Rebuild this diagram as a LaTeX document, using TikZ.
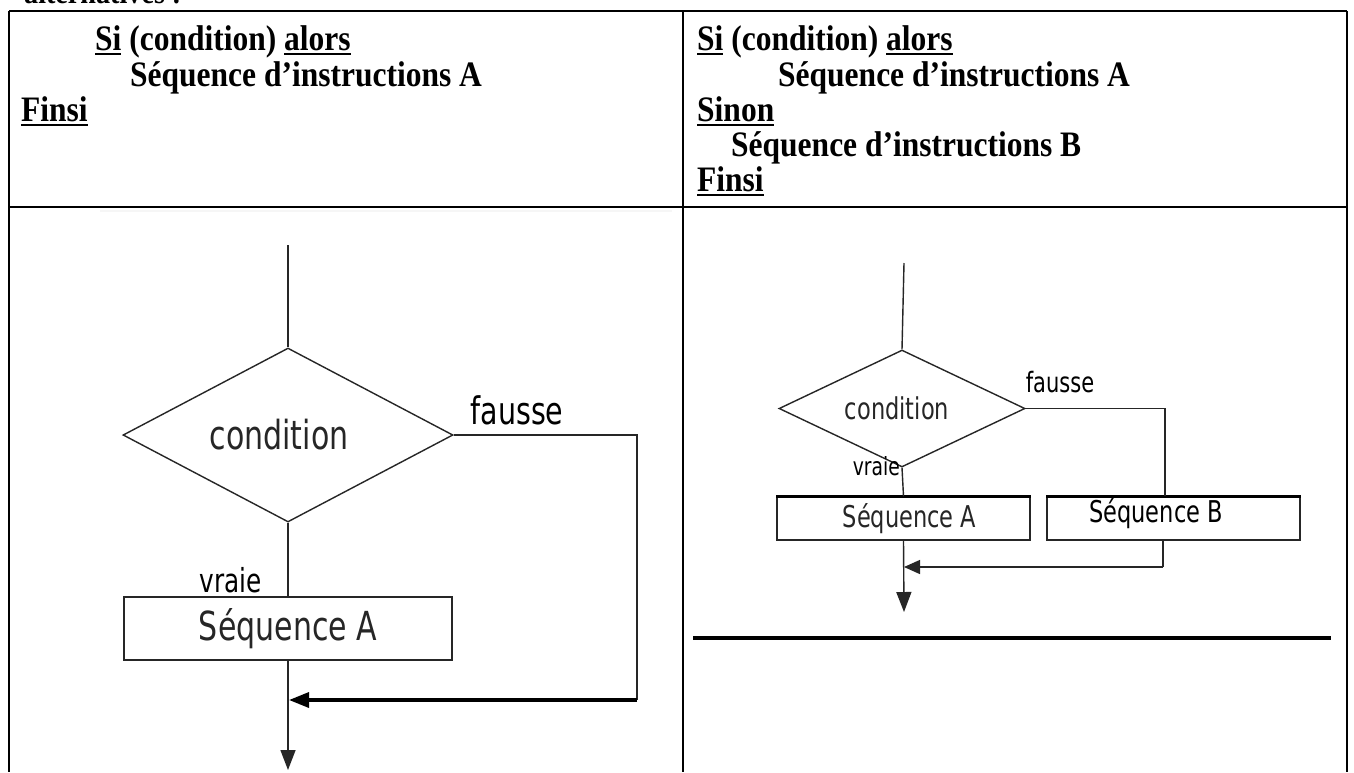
\documentclass[tikz,border=0pt]{standalone}
\usepackage{fontspec}
\setmainfont[FakeStretch=0.88]{Liberation Serif}
\newfontfamily\flowfont[FakeStretch=0.75]{DejaVu Sans}
\usetikzlibrary{shapes.geometric,arrows.meta}
\newcommand\uln[1]{\vtop{\hbox{#1}\kern2.2pt\hrule height 2.8pt}}
\begin{document}
\begin{tikzpicture}[x=1pt,y=-1pt,
  tab/.style={line width=2.6pt},
  code/.style={anchor=base west, inner sep=0pt, font=\fontsize{35.8}{40}\selectfont\bfseries},
  flowl/.style={line width=1.4pt, black!85},
  dia/.style={diamond, draw, flowl, inner sep=0pt, font=\flowfont\fontsize{40}{44}\selectfont},
  dias/.style={diamond, draw, flowl, inner sep=0pt, font=\flowfont\fontsize{30}{34}\selectfont},
  boxl/.style={rectangle, draw, flowl, inner sep=0pt, font=\flowfont\fontsize{40}{44}\selectfont},
  boxs/.style={rectangle, draw, flowl, inner sep=0pt, font=\flowfont\fontsize{30}{34}\selectfont},
  lbll/.style={inner sep=0pt, font=\flowfont\fontsize{38}{42}\selectfont},
  lbls/.style={inner sep=0pt, font=\flowfont\fontsize{28}{32}\selectfont},
  arr/.style={-{Triangle[length=20pt,width=15pt]}},
  arrs/.style={-{Triangle[length=16pt,width=14pt]}}
]
\useasboundingbox (0,0) rectangle (1354,772);
\fill[white] (0,0) rectangle (1354,772);

% cut-off heading
\node[code, font=\fontsize{32}{36}\selectfont\bfseries] (head) at (24,3) {alternatives :};

% table
\draw[tab] (9,11) -- (1347,11);
\draw[tab] (9,11) -- (9,772);
\draw[tab] (683,11) -- (683,772);
\draw[tab] (1347,11) -- (1347,772);
\draw[tab] (9,207) -- (1347,207);
\fill[blue!4!gray!7] (100,209.5) rectangle (672,212);

% top-left cell
\node[code] (l1) at (95,50) {\uln{Si} (condition) \uln{alors}};
\node[code] (l2) at (130,86) {Séquence d’instructions A};
\node[code] (l3) at (21,121) {\uln{Finsi}};

% top-right cell
\node[code] (r1) at (697,50) {\uln{Si} (condition) \uln{alors}};
\node[code] (r2) at (778,86) {Séquence d’instructions A};
\node[code] (r3) at (697,121) {\uln{Sinon}};
\node[code] (r4) at (731,156) {Séquence d’instructions B};
\node[code] (r5) at (697,191) {\uln{Finsi}};

% left flowchart
\coordinate (t1) at (288,245);
\node[dia, minimum width=330pt, minimum height=174pt, aspect=1.9] (c1) at (288,435) {condition\hspace*{18pt}};
\node[boxl, minimum width=328pt, minimum height=63pt] (a1) at (288,628.5) {Séquence A};
\node[lbll, anchor=east, font=\flowfont\fontsize{33}{36}\selectfont] (v1) at (262,580) {vraie};
\node[lbll] (f1) at (517,410) {fausse};
\coordinate (k1) at (637,435);
\coordinate (k1b) at (637,700);
\coordinate (m1) at (289,700);
\coordinate (e1) at (288,770);
\draw[flowl] (t1) -- (c1.north);
\draw[flowl] (c1.south) -- (a1.north);
\draw[flowl] (c1.east) -- (k1) -- (k1b);
\draw[line width=3.4pt, arr] (k1b) -- (m1);
\draw[flowl, arr] (a1.south) -- (e1);

% right flowchart
\coordinate (t2) at (904,263);
\node[dias, minimum width=246pt, minimum height=117pt, aspect=2.1] (c2) at (902,408.5) {condition\hspace*{10pt}};
\node[boxs, minimum width=253pt, minimum height=43pt] (a2) at (903.5,518.5) {\hspace*{12pt}Séquence A};
\node[boxs, minimum width=253pt, minimum height=43pt] (b2) at (1173.5,518.5) {};
\node[lbls, font=\flowfont\fontsize{30}{34}\selectfont] (sb) at (1156,514) {Séquence B};
\node[lbls, anchor=east, font=\flowfont\fontsize{25}{28}\selectfont] (v2) at (900,466) {vraie};
\node[lbls] (f2) at (1060,382) {fausse};
\draw[line width=3pt] (a2.north west) -- (a2.north east);
\draw[line width=3pt] (b2.north west) -- (b2.north east);
\coordinate (k2) at (1165,408.5);
\coordinate (k3) at (1163,567);
\coordinate (m2) at (904,567);
\coordinate (e2) at (904,612);
\draw[flowl] (t2) -- (c2.north);
\draw[flowl] (c2.south) -- (a2.north);
\draw[flowl] (c2.east) -- (k2) -- (k2 |- b2.north);
\draw[flowl] (k3 |- b2.south) -- (k3);
\draw[flowl, arrs] (k3) -- (m2);
\draw[flowl, arr] (a2.south) -- (e2);
\draw[line width=4pt] (693,638) -- (1331,638);
\end{tikzpicture}
\end{document}
